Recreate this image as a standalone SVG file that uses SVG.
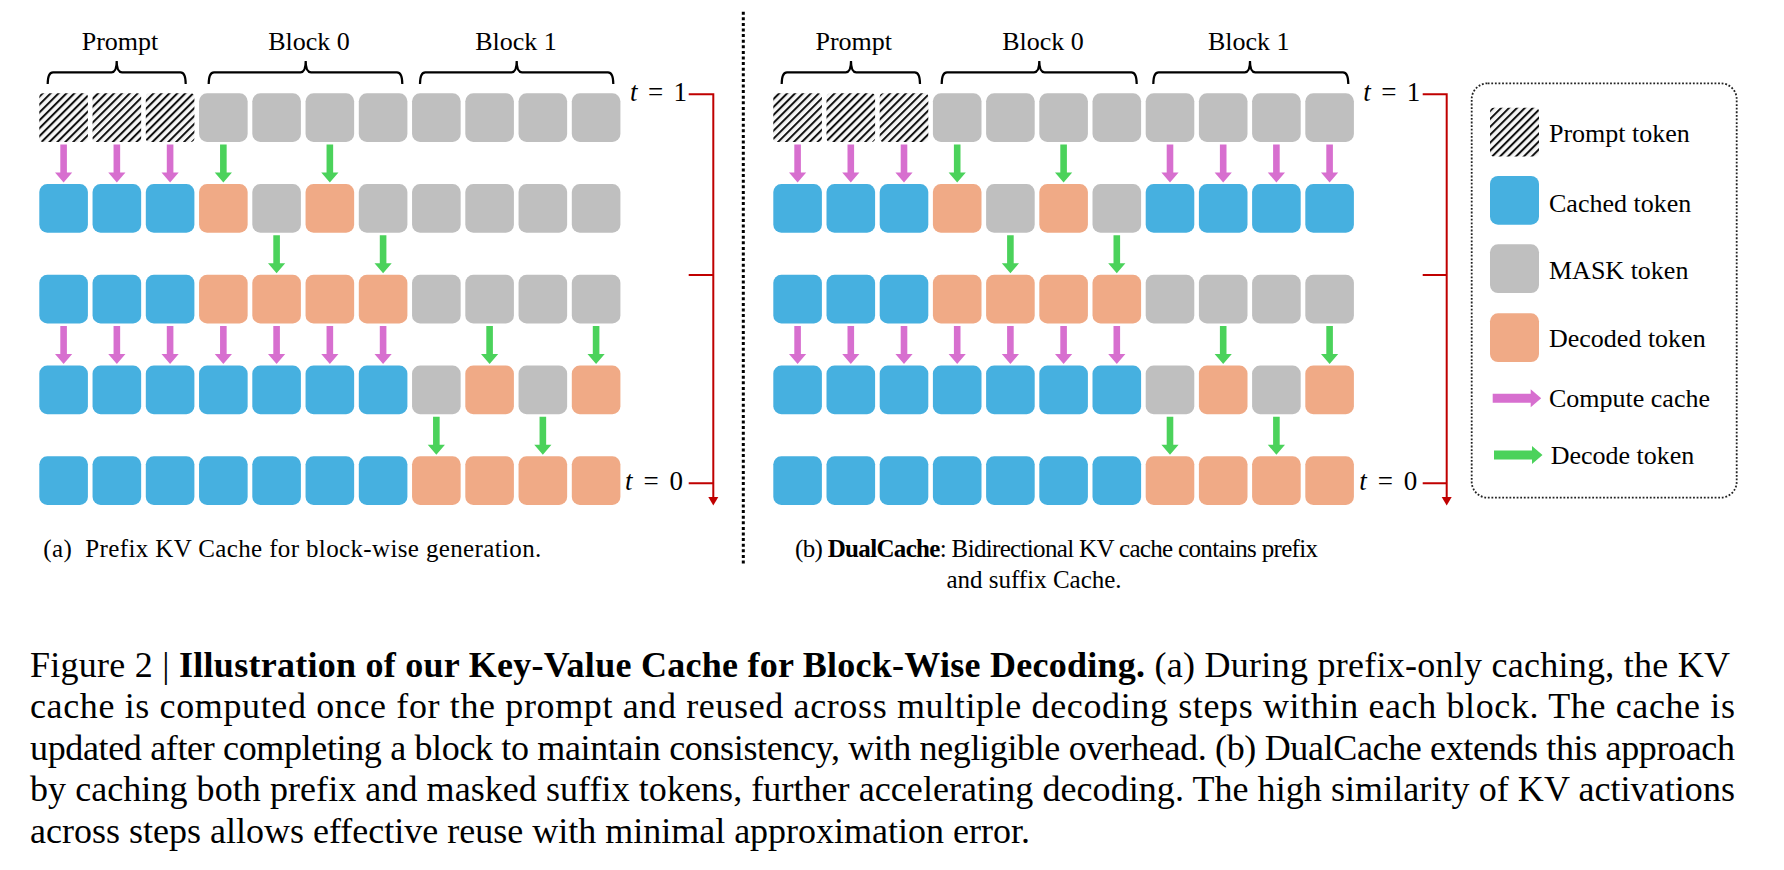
<svg xmlns="http://www.w3.org/2000/svg" xmlns:xlink="http://www.w3.org/1999/xlink" width="1784" height="870" viewBox="0 0 1784 870">
<style>
text{font-family:"Liberation Serif","Times New Roman",serif;fill:#000}
.lbl{font-size:26px;text-anchor:middle}
.tl{font-size:27px}
.leg{font-size:26px}
.cap{font-size:25px}
.fig{font-size:36px}
.c{fill:#46B0E0}.m{fill:#BFBFBF}.d{fill:#F0AA86}.p{fill:url(#hatch)}
.pk{fill:#D76FCF}.gr{fill:#4BD25B}
.br{fill:none;stroke:#000;stroke-width:2.2}
.red{fill:none;stroke:#C00000;stroke-width:2}
.rh{fill:#C00000}
</style>
<defs>
<pattern id="hatch" width="5.6" height="5.6" patternUnits="userSpaceOnUse" patternTransform="rotate(45)">
<rect width="5.6" height="5.6" fill="#F7F7F7"/><rect width="2" height="5.6" fill="#111"/>
</pattern>
<path id="va" d="M-3.3,0H3.3V28.1H8.6L0,38.1L-8.6,28.1H-3.3Z"/>
<path id="ha" d="M0,-4.5H38V-9L48.5,0L38,9V4.5H0Z"/>
</defs>
<rect width="1784" height="870" fill="#fff"/>

<!-- Panel a -->
<g id="a-labels">
<text class="lbl" x="120" y="50">Prompt</text>
<text class="lbl" x="309" y="50">Block 0</text>
<text class="lbl" x="516" y="50">Block 1</text>
<path class="br" d="M47.7,84Q47.7,72.3 53,72.3H111.5Q116.7,72.3 116.7,61Q116.7,72.3 122,72.3H180.5Q185.7,72.3 185.7,84"/>
<path class="br" d="M208.7,84Q208.7,72.3 214,72.3H300.5Q305.7,72.3 305.7,61Q305.7,72.3 311,72.3H397Q402.3,72.3 402.3,84"/>
<path class="br" d="M420,84Q420,72.3 425.3,72.3H511.5Q516.7,72.3 516.7,61Q516.7,72.3 522,72.3H608Q613.3,72.3 613.3,84"/>
</g>
<g id="a-row0">
<rect x="39.3" y="93.3" width="48.6" height="48.6" rx="4" class="p"/><rect x="92.55" y="93.3" width="48.6" height="48.6" rx="4" class="p"/><rect x="145.8" y="93.3" width="48.6" height="48.6" rx="4" class="p"/><rect x="199.05" y="93.3" width="48.6" height="48.6" rx="8" class="m"/><rect x="252.3" y="93.3" width="48.6" height="48.6" rx="8" class="m"/><rect x="305.55" y="93.3" width="48.6" height="48.6" rx="8" class="m"/><rect x="358.8" y="93.3" width="48.6" height="48.6" rx="8" class="m"/><rect x="412.05" y="93.3" width="48.6" height="48.6" rx="8" class="m"/><rect x="465.3" y="93.3" width="48.6" height="48.6" rx="8" class="m"/><rect x="518.55" y="93.3" width="48.6" height="48.6" rx="8" class="m"/><rect x="571.8" y="93.3" width="48.6" height="48.6" rx="8" class="m"/>
</g>
<g id="a-row1">
<rect x="39.3" y="184.05" width="48.6" height="48.6" rx="8" class="c"/><rect x="92.55" y="184.05" width="48.6" height="48.6" rx="8" class="c"/><rect x="145.8" y="184.05" width="48.6" height="48.6" rx="8" class="c"/><rect x="199.05" y="184.05" width="48.6" height="48.6" rx="8" class="d"/><rect x="252.3" y="184.05" width="48.6" height="48.6" rx="8" class="m"/><rect x="305.55" y="184.05" width="48.6" height="48.6" rx="8" class="d"/><rect x="358.8" y="184.05" width="48.6" height="48.6" rx="8" class="m"/><rect x="412.05" y="184.05" width="48.6" height="48.6" rx="8" class="m"/><rect x="465.3" y="184.05" width="48.6" height="48.6" rx="8" class="m"/><rect x="518.55" y="184.05" width="48.6" height="48.6" rx="8" class="m"/><rect x="571.8" y="184.05" width="48.6" height="48.6" rx="8" class="m"/>
</g>
<g id="a-row2">
<rect x="39.3" y="274.8" width="48.6" height="48.6" rx="8" class="c"/><rect x="92.55" y="274.8" width="48.6" height="48.6" rx="8" class="c"/><rect x="145.8" y="274.8" width="48.6" height="48.6" rx="8" class="c"/><rect x="199.05" y="274.8" width="48.6" height="48.6" rx="8" class="d"/><rect x="252.3" y="274.8" width="48.6" height="48.6" rx="8" class="d"/><rect x="305.55" y="274.8" width="48.6" height="48.6" rx="8" class="d"/><rect x="358.8" y="274.8" width="48.6" height="48.6" rx="8" class="d"/><rect x="412.05" y="274.8" width="48.6" height="48.6" rx="8" class="m"/><rect x="465.3" y="274.8" width="48.6" height="48.6" rx="8" class="m"/><rect x="518.55" y="274.8" width="48.6" height="48.6" rx="8" class="m"/><rect x="571.8" y="274.8" width="48.6" height="48.6" rx="8" class="m"/>
</g>
<g id="a-row3">
<rect x="39.3" y="365.55" width="48.6" height="48.6" rx="8" class="c"/><rect x="92.55" y="365.55" width="48.6" height="48.6" rx="8" class="c"/><rect x="145.8" y="365.55" width="48.6" height="48.6" rx="8" class="c"/><rect x="199.05" y="365.55" width="48.6" height="48.6" rx="8" class="c"/><rect x="252.3" y="365.55" width="48.6" height="48.6" rx="8" class="c"/><rect x="305.55" y="365.55" width="48.6" height="48.6" rx="8" class="c"/><rect x="358.8" y="365.55" width="48.6" height="48.6" rx="8" class="c"/><rect x="412.05" y="365.55" width="48.6" height="48.6" rx="8" class="m"/><rect x="465.3" y="365.55" width="48.6" height="48.6" rx="8" class="d"/><rect x="518.55" y="365.55" width="48.6" height="48.6" rx="8" class="m"/><rect x="571.8" y="365.55" width="48.6" height="48.6" rx="8" class="d"/>
</g>
<g id="a-row4">
<rect x="39.3" y="456.3" width="48.6" height="48.6" rx="8" class="c"/><rect x="92.55" y="456.3" width="48.6" height="48.6" rx="8" class="c"/><rect x="145.8" y="456.3" width="48.6" height="48.6" rx="8" class="c"/><rect x="199.05" y="456.3" width="48.6" height="48.6" rx="8" class="c"/><rect x="252.3" y="456.3" width="48.6" height="48.6" rx="8" class="c"/><rect x="305.55" y="456.3" width="48.6" height="48.6" rx="8" class="c"/><rect x="358.8" y="456.3" width="48.6" height="48.6" rx="8" class="c"/><rect x="412.05" y="456.3" width="48.6" height="48.6" rx="8" class="d"/><rect x="465.3" y="456.3" width="48.6" height="48.6" rx="8" class="d"/><rect x="518.55" y="456.3" width="48.6" height="48.6" rx="8" class="d"/><rect x="571.8" y="456.3" width="48.6" height="48.6" rx="8" class="d"/>
</g>
<g id="a-timeline">
<text class="tl" x="630" y="101" textLength="57" lengthAdjust="spacing"><tspan font-style="italic">t</tspan> = 1</text>
<text class="tl" x="625" y="489.5" textLength="58" lengthAdjust="spacing"><tspan font-style="italic">t</tspan> = 0</text>
<path class="red" d="M688.7,94.3H713.3V498"/>
<path class="red" d="M688.7,275H713.3M688.7,483.3H713.3"/>
<path class="rh" d="M708.3,497L718.3,497L713.3,505.5Z"/>
</g>
<g id="a-caption">
<text class="cap" x="43.3" y="557.3" xml:space="preserve" textLength="498" lengthAdjust="spacing">(a)  Prefix KV Cache for block-wise generation.</text>
</g>

<!-- divider -->
<line id="divider" x1="743.3" y1="11.7" x2="743.3" y2="566" stroke="#000" stroke-width="3" stroke-dasharray="3 2.6"/>

<!-- Panel b -->
<g id="b-labels">
<text class="lbl" x="853.8" y="50">Prompt</text>
<text class="lbl" x="1043" y="50">Block 0</text>
<text class="lbl" x="1248.8" y="50">Block 1</text>
<path class="br" d="M781.7,84Q781.7,72.3 787,72.3H845.8Q851,72.3 851,61Q851,72.3 856.2,72.3H914.7Q920,72.3 920,84"/>
<path class="br" d="M941.7,84Q941.7,72.3 947,72.3H1034Q1039.3,72.3 1039.3,61Q1039.3,72.3 1044.6,72.3H1131.4Q1136.7,72.3 1136.7,84"/>
<path class="br" d="M1153.3,84Q1153.3,72.3 1158.6,72.3H1244.8Q1250,72.3 1250,61Q1250,72.3 1255.2,72.3H1343Q1348.3,72.3 1348.3,84"/>
</g>
<g id="b-row0">
<rect x="773.3" y="93.3" width="48.6" height="48.6" rx="4" class="p"/><rect x="826.5" y="93.3" width="48.6" height="48.6" rx="4" class="p"/><rect x="879.7" y="93.3" width="48.6" height="48.6" rx="4" class="p"/><rect x="932.9" y="93.3" width="48.6" height="48.6" rx="8" class="m"/><rect x="986.1" y="93.3" width="48.6" height="48.6" rx="8" class="m"/><rect x="1039.3" y="93.3" width="48.6" height="48.6" rx="8" class="m"/><rect x="1092.5" y="93.3" width="48.6" height="48.6" rx="8" class="m"/><rect x="1145.7" y="93.3" width="48.6" height="48.6" rx="8" class="m"/><rect x="1198.9" y="93.3" width="48.6" height="48.6" rx="8" class="m"/><rect x="1252.1" y="93.3" width="48.6" height="48.6" rx="8" class="m"/><rect x="1305.3" y="93.3" width="48.6" height="48.6" rx="8" class="m"/>
</g>
<g id="b-row1">
<rect x="773.3" y="184.05" width="48.6" height="48.6" rx="8" class="c"/><rect x="826.5" y="184.05" width="48.6" height="48.6" rx="8" class="c"/><rect x="879.7" y="184.05" width="48.6" height="48.6" rx="8" class="c"/><rect x="932.9" y="184.05" width="48.6" height="48.6" rx="8" class="d"/><rect x="986.1" y="184.05" width="48.6" height="48.6" rx="8" class="m"/><rect x="1039.3" y="184.05" width="48.6" height="48.6" rx="8" class="d"/><rect x="1092.5" y="184.05" width="48.6" height="48.6" rx="8" class="m"/><rect x="1145.7" y="184.05" width="48.6" height="48.6" rx="8" class="c"/><rect x="1198.9" y="184.05" width="48.6" height="48.6" rx="8" class="c"/><rect x="1252.1" y="184.05" width="48.6" height="48.6" rx="8" class="c"/><rect x="1305.3" y="184.05" width="48.6" height="48.6" rx="8" class="c"/>
</g>
<g id="b-row2">
<rect x="773.3" y="274.8" width="48.6" height="48.6" rx="8" class="c"/><rect x="826.5" y="274.8" width="48.6" height="48.6" rx="8" class="c"/><rect x="879.7" y="274.8" width="48.6" height="48.6" rx="8" class="c"/><rect x="932.9" y="274.8" width="48.6" height="48.6" rx="8" class="d"/><rect x="986.1" y="274.8" width="48.6" height="48.6" rx="8" class="d"/><rect x="1039.3" y="274.8" width="48.6" height="48.6" rx="8" class="d"/><rect x="1092.5" y="274.8" width="48.6" height="48.6" rx="8" class="d"/><rect x="1145.7" y="274.8" width="48.6" height="48.6" rx="8" class="m"/><rect x="1198.9" y="274.8" width="48.6" height="48.6" rx="8" class="m"/><rect x="1252.1" y="274.8" width="48.6" height="48.6" rx="8" class="m"/><rect x="1305.3" y="274.8" width="48.6" height="48.6" rx="8" class="m"/>
</g>
<g id="b-row3">
<rect x="773.3" y="365.55" width="48.6" height="48.6" rx="8" class="c"/><rect x="826.5" y="365.55" width="48.6" height="48.6" rx="8" class="c"/><rect x="879.7" y="365.55" width="48.6" height="48.6" rx="8" class="c"/><rect x="932.9" y="365.55" width="48.6" height="48.6" rx="8" class="c"/><rect x="986.1" y="365.55" width="48.6" height="48.6" rx="8" class="c"/><rect x="1039.3" y="365.55" width="48.6" height="48.6" rx="8" class="c"/><rect x="1092.5" y="365.55" width="48.6" height="48.6" rx="8" class="c"/><rect x="1145.7" y="365.55" width="48.6" height="48.6" rx="8" class="m"/><rect x="1198.9" y="365.55" width="48.6" height="48.6" rx="8" class="d"/><rect x="1252.1" y="365.55" width="48.6" height="48.6" rx="8" class="m"/><rect x="1305.3" y="365.55" width="48.6" height="48.6" rx="8" class="d"/>
</g>
<g id="b-row4">
<rect x="773.3" y="456.3" width="48.6" height="48.6" rx="8" class="c"/><rect x="826.5" y="456.3" width="48.6" height="48.6" rx="8" class="c"/><rect x="879.7" y="456.3" width="48.6" height="48.6" rx="8" class="c"/><rect x="932.9" y="456.3" width="48.6" height="48.6" rx="8" class="c"/><rect x="986.1" y="456.3" width="48.6" height="48.6" rx="8" class="c"/><rect x="1039.3" y="456.3" width="48.6" height="48.6" rx="8" class="c"/><rect x="1092.5" y="456.3" width="48.6" height="48.6" rx="8" class="c"/><rect x="1145.7" y="456.3" width="48.6" height="48.6" rx="8" class="d"/><rect x="1198.9" y="456.3" width="48.6" height="48.6" rx="8" class="d"/><rect x="1252.1" y="456.3" width="48.6" height="48.6" rx="8" class="d"/><rect x="1305.3" y="456.3" width="48.6" height="48.6" rx="8" class="d"/>
</g>
<g id="b-timeline">
<text class="tl" x="1363.3" y="101" textLength="57" lengthAdjust="spacing"><tspan font-style="italic">t</tspan> = 1</text>
<text class="tl" x="1359.3" y="489.5" textLength="58" lengthAdjust="spacing"><tspan font-style="italic">t</tspan> = 0</text>
<path class="red" d="M1422.7,94.3H1446.7V498"/>
<path class="red" d="M1422.7,275H1446.7M1422.7,483.3H1446.7"/>
<path class="rh" d="M1441.7,497L1451.7,497L1446.7,505.5Z"/>
</g>
<g id="b-caption">
<text class="cap" x="795" y="557.3" textLength="523" lengthAdjust="spacing">(b) <tspan font-weight="bold">DualCache</tspan>: Bidirectional KV cache contains prefix</text>
<text class="cap" x="1034" y="587.5" text-anchor="middle">and suffix Cache.</text>
</g>

<!-- connectors -->
<g id="connectors">
<g id="a-arrows">
<use href="#va" x="63.6" y="144.4" class="pk"/><use href="#va" x="116.85" y="144.4" class="pk"/><use href="#va" x="170.1" y="144.4" class="pk"/>
<use href="#va" x="223.35" y="144.4" class="gr"/><use href="#va" x="329.85" y="144.4" class="gr"/>
<use href="#va" x="276.6" y="235.15" class="gr"/><use href="#va" x="383.1" y="235.15" class="gr"/>
<use href="#va" x="63.6" y="325.9" class="pk"/><use href="#va" x="116.85" y="325.9" class="pk"/><use href="#va" x="170.1" y="325.9" class="pk"/><use href="#va" x="223.35" y="325.9" class="pk"/><use href="#va" x="276.6" y="325.9" class="pk"/><use href="#va" x="329.85" y="325.9" class="pk"/><use href="#va" x="383.1" y="325.9" class="pk"/>
<use href="#va" x="489.6" y="325.9" class="gr"/><use href="#va" x="596.1" y="325.9" class="gr"/>
<use href="#va" x="436.35" y="416.65" class="gr"/><use href="#va" x="542.85" y="416.65" class="gr"/>
</g>
<g id="b-arrows">
<use href="#va" x="797.6" y="144.4" class="pk"/><use href="#va" x="850.8" y="144.4" class="pk"/><use href="#va" x="904" y="144.4" class="pk"/>
<use href="#va" x="957.2" y="144.4" class="gr"/><use href="#va" x="1063.6" y="144.4" class="gr"/>
<use href="#va" x="1170" y="144.4" class="pk"/><use href="#va" x="1223.2" y="144.4" class="pk"/><use href="#va" x="1276.4" y="144.4" class="pk"/><use href="#va" x="1329.6" y="144.4" class="pk"/>
<use href="#va" x="1010.4" y="235.15" class="gr"/><use href="#va" x="1116.8" y="235.15" class="gr"/>
<use href="#va" x="797.6" y="325.9" class="pk"/><use href="#va" x="850.8" y="325.9" class="pk"/><use href="#va" x="904" y="325.9" class="pk"/><use href="#va" x="957.2" y="325.9" class="pk"/><use href="#va" x="1010.4" y="325.9" class="pk"/><use href="#va" x="1063.6" y="325.9" class="pk"/><use href="#va" x="1116.8" y="325.9" class="pk"/>
<use href="#va" x="1223.2" y="325.9" class="gr"/><use href="#va" x="1329.6" y="325.9" class="gr"/>
<use href="#va" x="1170" y="416.65" class="gr"/><use href="#va" x="1276.4" y="416.65" class="gr"/>
</g>
</g>

<!-- legend -->
<g id="legend">
<rect x="1471.7" y="83.3" width="265" height="414.4" rx="16" fill="none" stroke="#222" stroke-width="1.8" stroke-dasharray="1.8 1.8"/>
<rect x="1490" y="107.7" width="49" height="48.7" rx="4" class="p"/>
<text class="leg" x="1549" y="141.7">Prompt token</text>
<rect x="1490" y="176" width="49" height="48.7" rx="8" class="c"/>
<text class="leg" x="1549" y="211.7">Cached token</text>
<rect x="1490" y="244.3" width="49" height="48.7" rx="8" class="m"/>
<text class="leg" x="1549" y="279.3">MASK token</text>
<rect x="1490" y="313.3" width="49" height="48.7" rx="8" class="d"/>
<text class="leg" x="1549" y="347.3">Decoded token</text>
<use href="#ha" x="1492.7" y="398.3" class="pk"/>
<text class="leg" x="1549" y="407.3">Compute cache</text>
<use href="#ha" x="1494" y="455" class="gr"/>
<text class="leg" x="1550.7" y="464">Decode token</text>
</g>

<!-- figure caption -->
<g id="figure-caption">
<text class="fig" x="30" y="676.7" textLength="1700" lengthAdjust="spacing">Figure 2 | <tspan font-weight="bold">Illustration of our Key-Value Cache for Block-Wise Decoding.</tspan> (a) During prefix-only caching, the KV</text>
<text class="fig" x="30" y="718.2" textLength="1705" lengthAdjust="spacing">cache is computed once for the prompt and reused across multiple decoding steps within each block.  The cache is</text>
<text class="fig" x="30" y="759.7" textLength="1705" lengthAdjust="spacing">updated after completing a block to maintain consistency, with negligible overhead. (b) DualCache extends this approach</text>
<text class="fig" x="30" y="801.2" textLength="1705" lengthAdjust="spacing">by caching both prefix and masked suffix tokens, further accelerating decoding. The high similarity of KV activations</text>
<text class="fig" x="30" y="842.7">across steps allows effective reuse with minimal approximation error.</text>
</g>
</svg>
